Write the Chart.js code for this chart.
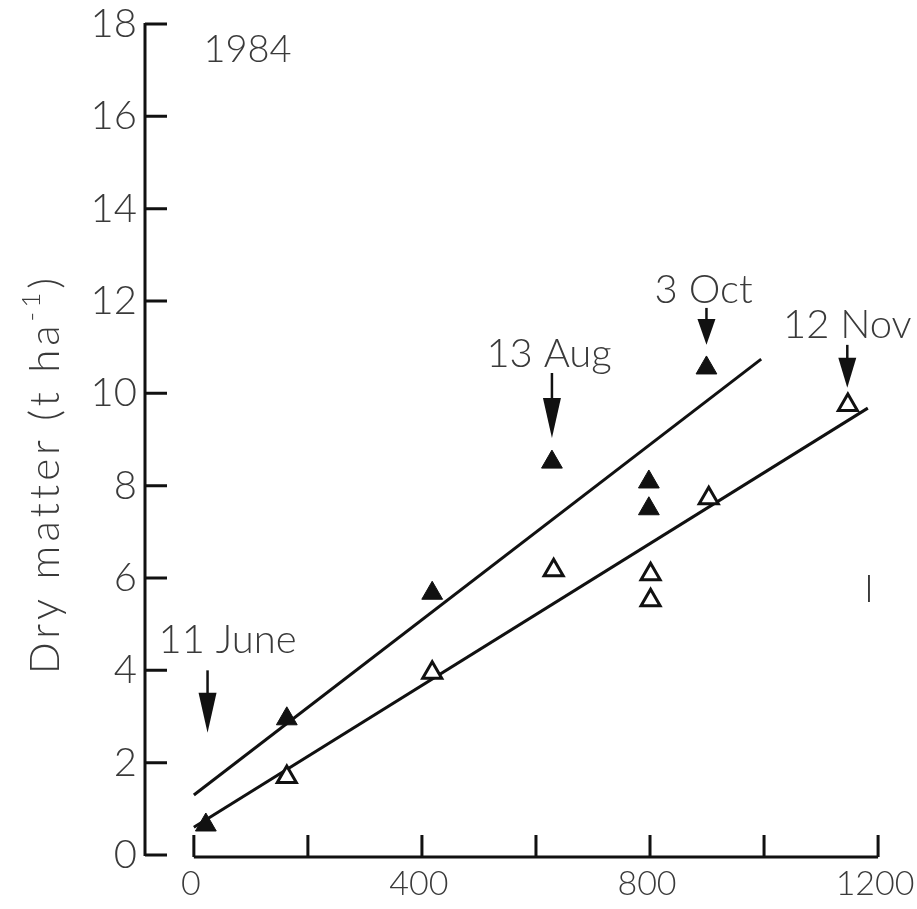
<!DOCTYPE html>
<html>
<head>
<meta charset="utf-8">
<script src="https://cdn.jsdelivr.net/npm/chart.js@4/dist/chart.umd.min.js"></script>
<style>
  html, body { margin: 0; padding: 0; background: #fff; }
  #wrap { width: 917px; height: 909px; }
</style>
</head>
<body>
<div id="wrap"><canvas id="chart" width="917" height="909"></canvas></div>
<script>
// thermal time (x) vs dry matter (t/ha), 1984
const filledX = [21, 163, 418, 628, 798, 798, 899]
const filledY = [0.65, 2.95, 5.67, 8.51, 8.08, 7.5, 10.55]
const openX = [163, 418, 631, 801, 801, 903, 1147]
const openY = [1.69, 3.95, 6.17, 6.08, 5.52, 7.73, 9.75]

// fitted lines (end points)
const fitUpX = [0, 995]
const fitUpY = [1.3, 10.74]
const fitLoX = [0, 1182]
const fitLoY = [0.6, 9.68]

// harvest dates marked with arrows
const dateLabels = ["11 June", "13 Aug", "3 Oct", "12 Nov"]
const dateX = [24, 628, 899, 1146]
const dateLabelX = [59, 623, 894, 1146]
const dateLabelY = [4.66, 10.85, 12.24, 11.48]
const arrowTop = [4.0, 10.44, 11.85, 11.05]
const arrowTip = [2.65, 9.03, 11.05, 10.12]

const yTicks = [0, 2, 4, 6, 8, 10, 12, 14, 16, 18]
const xTicks = [0, 200, 400, 600, 800, 1000, 1200]
const xTickLabels = [0, 400, 800, 1200]

const ink = "#111"
const textInk = "#3a3a3a"
const fontFamily = "Lato, 'Open Sans', sans-serif"

const toPoints = (xs, ys) => xs.map((x, i) => ({ x, y: ys[i] }))

const paperAxes = {
  id: "paperAxes",
  beforeDatasetsDraw(chart) {
    const { ctx, scales: { x, y } } = chart
    const ax = x.left
    const by = y.getPixelForValue(0) + 2
    ctx.save()
    ctx.strokeStyle = ink
    ctx.lineWidth = 3
    ctx.beginPath()
    ctx.moveTo(ax, y.getPixelForValue(18) - 1)
    ctx.lineTo(ax, y.getPixelForValue(0) + 1)
    yTicks.forEach(v => {
      const py = y.getPixelForValue(v)
      ctx.moveTo(ax, py)
      ctx.lineTo(ax + 22, py)
    })
    ctx.moveTo(x.getPixelForValue(0), by)
    ctx.lineTo(x.getPixelForValue(1200), by)
    xTicks.forEach(v => {
      const px = x.getPixelForValue(v)
      ctx.moveTo(px, by)
      ctx.lineTo(px, by - 22)
    })
    ctx.stroke()
    ctx.restore()
  },
  afterDraw(chart) {
    const { ctx, scales: { x, y } } = chart
    ctx.save()
    ctx.textAlign = "center"
    ctx.textBaseline = "middle"

    // date labels and arrows
    dateLabels.forEach((lab, i) => {
      ctx.font = `300 40px ${fontFamily}`
      ctx.fillStyle = textInk
      ctx.fillText(lab, x.getPixelForValue(dateLabelX[i]), y.getPixelForValue(dateLabelY[i]))
      const px = x.getPixelForValue(dateX[i])
      const top = y.getPixelForValue(arrowTop[i])
      const tip = y.getPixelForValue(arrowTip[i])
      const headLen = Math.min(40, (tip - top) * 0.7)
      ctx.strokeStyle = ink
      ctx.fillStyle = ink
      ctx.lineWidth = 2.5
      ctx.beginPath()
      ctx.moveTo(px, top)
      ctx.lineTo(px, tip - headLen + 2)
      ctx.stroke()
      ctx.beginPath()
      ctx.moveTo(px - 9, tip - headLen)
      ctx.lineTo(px + 9, tip - headLen)
      ctx.lineTo(px, tip)
      ctx.closePath()
      ctx.fill()
    })

    ctx.fillStyle = textInk
    ctx.font = `300 38px ${fontFamily}`
    ctx.fillText("1984", x.getPixelForValue(94), y.getPixelForValue(17.44))
    ctx.fillText("I", x.getPixelForValue(1184), y.getPixelForValue(5.74))

    // y axis title, rotated, with superscript
    const main = "Dry matter (t ha"
    const sup = "-1"
    const tail = ")"
    const big = `300 42px ${fontFamily}`
    const small = `300 26px ${fontFamily}`
    ctx.letterSpacing = "4px"
    ctx.font = big
    const wMain = ctx.measureText(main).width
    const wTail = ctx.measureText(tail).width
    ctx.font = small
    const wSup = ctx.measureText(sup).width
    const total = wMain + wSup + wTail
    ctx.translate(45, 474)
    ctx.rotate(-Math.PI / 2)
    ctx.textAlign = "left"
    let cx = -total / 2
    ctx.font = big
    ctx.fillText(main, cx, 0)
    cx += wMain
    ctx.font = small
    ctx.fillText(sup, cx, -13)
    cx += wSup
    ctx.font = big
    ctx.fillText(tail, cx, 0)
    ctx.restore()
  },
}

new Chart(document.getElementById("chart"), {
  type: "scatter",
  data: {
    datasets: [
      {
        label: "fit upper",
        type: "line",
        data: toPoints(fitUpX, fitUpY),
        borderColor: ink,
        borderWidth: 3,
        pointRadius: 0,
        fill: false,
        order: 3,
      },
      {
        label: "fit lower",
        type: "line",
        data: toPoints(fitLoX, fitLoY),
        borderColor: ink,
        borderWidth: 3,
        pointRadius: 0,
        fill: false,
        order: 3,
      },
      {
        label: "filled",
        data: toPoints(filledX, filledY),
        pointStyle: "triangle",
        pointRadius: 12,
        backgroundColor: ink,
        borderColor: ink,
        borderWidth: 1,
        order: 1,
      },
      {
        label: "open",
        data: toPoints(openX, openY),
        pointStyle: "triangle",
        pointRadius: 11,
        backgroundColor: "#fff",
        borderColor: ink,
        borderWidth: 3,
        order: 2,
      },
    ],
  },
  options: {
    responsive: false,
    animation: false,
    layout: { padding: { top: 24, right: 12, left: 0, bottom: 0 } },
    scales: {
      x: {
        type: "linear",
        min: -85.7,
        max: 1243.7,
        grid: { display: false, drawTicks: false },
        border: { display: false },
        afterBuildTicks: s => { s.ticks = xTicks.map(v => ({ value: v })) },
        afterFit: s => {
          s.height = 54
          s.paddingLeft = 0
          s.paddingRight = 0
        },
        ticks: {
          autoSkip: false,
          maxRotation: 0,
          padding: 9,
          labelOffset: -3,
          color: textInk,
          font: { family: fontFamily, size: 34, weight: 300 },
          callback: v => xTickLabels.includes(v) ? String(v) : "",
        },
      },
      y: {
        type: "linear",
        min: 0,
        max: 18,
        grid: { display: false, drawTicks: false },
        border: { display: false },
        afterBuildTicks: s => { s.ticks = yTicks.map(v => ({ value: v })) },
        afterFit: s => {
          s.width = 145
          s.paddingTop = 0
          s.paddingBottom = 0
        },
        ticks: {
          autoSkip: false,
          padding: 8,
          color: textInk,
          font: { family: fontFamily, size: 40, weight: 300 },
        },
      },
    },
    plugins: {
      legend: { display: false },
      tooltip: { enabled: false },
    },
  },
  plugins: [paperAxes],
})
</script>
</body>
</html>
